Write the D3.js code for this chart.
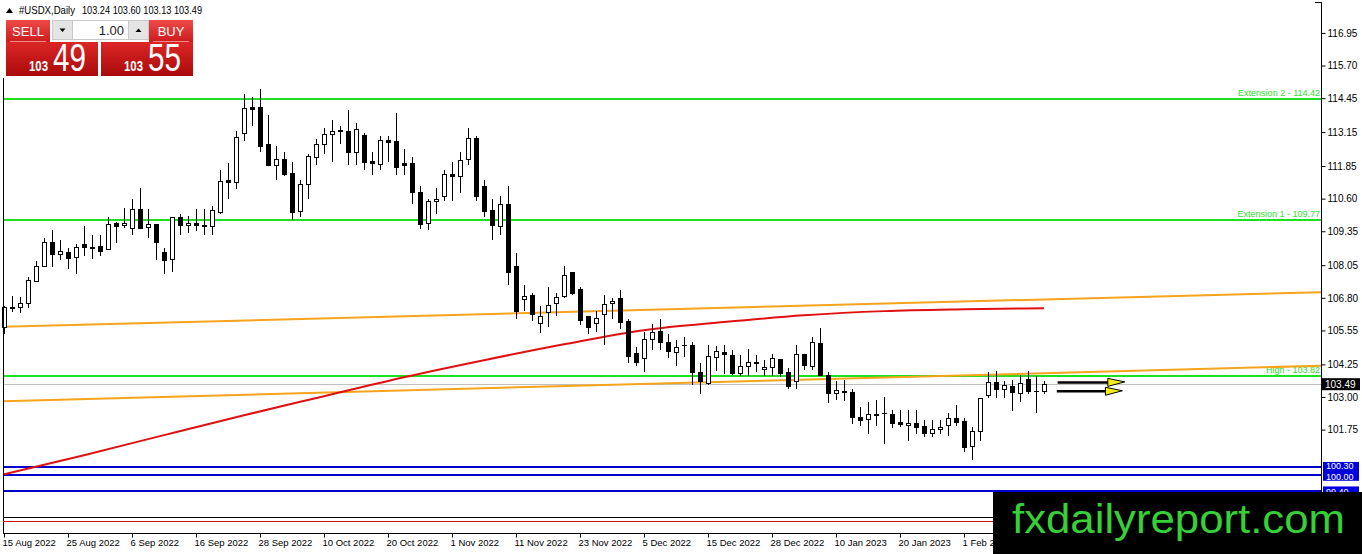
<!DOCTYPE html>
<meta charset="utf-8">
<script src="https://d3js.org/d3.v7.min.js"></script>
<style>
  body { margin: 0; background: #fff; }
  text { font-family: "Liberation Sans", Arial, sans-serif; }
</style>
<div id="chart"></div>
<script>
// daily candles, 15 Aug 2022 -> 15 Feb 2023
var opens  = [105.7,106.45,106.45,106.6,107.45,108.0,108.93,108.47,108.55,108.36,108.86,108.76,108.78,108.66,109.66,109.6,109.47,110.2,109.5,109.62,
              108.55,108.28,109.89,109.58,109.66,109.6,109.55,110.1,111.3,111.22,113.1,114.1,114.1,112.68,111.88,112.11,111.6,110.12,111.15,112.2,
              112.7,113.07,113.2,113.2,112.38,113.03,112.04,111.93,112.84,112.8,111.96,111.96,110.85,109.66,110.5,110.7,111.53,111.47,112.1,112.92,
              111.1,110.16,109.55,110.4,108.0,106.75,106.9,105.83,106.25,106.6,106.86,107.8,107.13,106.1,105.83,106.17,106.6,106.78,105.9,104.68,
              104.5,105.21,105.52,105.1,104.72,104.98,104.98,103.95,103.53,104.53,104.72,104.6,103.91,104.18,104.31,104.06,104.13,104.45,103.95,103.6,
              104.64,104.18,105.06,103.84,103.14,103.2,103.18,102.22,102.15,102.32,102.38,102.34,102.03,101.92,101.99,101.88,101.61,101.77,101.92,102.19,
              102.07,101.11,101.69,103.07,103.57,103.3,103.41,103.14,103.68,103.22,103.24];
var highs  = [106.5,106.86,106.82,107.6,108.2,109.1,109.4,109.0,108.7,108.85,109.56,109.2,109.2,109.9,109.7,110.23,110.6,111.0,110.2,109.62,
              108.7,109.9,110.0,109.95,110.2,110.2,110.3,111.7,111.95,113.2,114.6,114.5,114.8,113.8,112.6,112.4,112.0,111.3,112.3,112.9,
              113.3,113.6,113.4,114.0,113.5,113.1,112.4,113.0,113.0,113.87,112.5,112.2,111.1,110.6,111.0,111.7,112.0,112.4,113.3,113.0,
              111.3,110.6,110.7,111.1,108.5,107.3,107.0,106.5,107.2,107.0,108.0,107.8,107.2,106.1,106.3,106.9,106.8,107.1,106.0,104.9,
              105.5,105.8,106.0,105.4,105.2,105.3,105.1,104.3,105.0,104.95,105.0,104.8,104.6,104.85,104.6,104.4,104.65,104.45,104.1,105.0,
              104.64,105.3,105.65,103.95,103.6,103.65,103.3,102.6,102.8,102.9,103.0,102.5,102.5,102.5,102.5,102.1,102.1,102.1,102.4,102.7,
              102.2,101.85,102.95,103.95,104.0,103.6,103.65,103.84,104.0,103.8,103.6];
var lows   = [105.4,106.26,106.21,106.4,107.4,108.0,107.97,108.25,107.9,107.73,108.4,108.3,108.4,108.66,108.9,109.47,109.2,109.47,109.1,108.25,
              107.7,107.8,109.2,109.3,109.35,109.2,109.2,110.0,110.6,110.97,112.8,113.4,112.4,111.88,111.3,111.45,109.8,109.9,110.6,111.9,
              112.3,112.0,112.7,111.9,111.9,111.7,111.5,111.7,112.0,111.5,111.5,110.4,109.45,109.4,110.0,110.5,110.5,110.8,111.9,110.5,
              109.9,109.0,109.2,107.3,106.0,106.3,105.9,105.45,105.7,106.1,106.8,106.9,105.75,105.4,105.5,105.0,106.0,105.6,104.3,104.2,
              103.95,104.8,104.8,104.5,104.2,104.55,103.45,103.1,103.45,104.0,103.9,103.85,103.8,103.8,103.95,103.8,103.8,103.75,103.3,103.3,
              104.05,104.05,103.8,102.76,102.9,102.85,101.95,101.87,101.6,101.9,101.2,101.83,101.85,101.3,101.6,101.45,101.45,101.6,101.5,101.87,
              100.9,100.6,101.3,102.95,102.95,102.95,102.45,102.8,103.1,102.4,103.13];
var closes = [106.45,106.42,106.6,107.47,108.0,108.93,108.47,108.58,108.32,108.74,108.74,108.72,108.6,109.62,109.55,109.65,110.2,109.47,109.62,108.93,
              108.24,109.89,109.58,109.66,109.58,109.55,110.16,111.27,111.22,112.95,114.06,114.05,112.6,111.88,112.11,111.53,110.08,111.15,112.23,112.68,
              113.07,113.19,113.22,112.38,113.26,112.0,111.96,112.84,112.76,111.8,111.88,110.85,109.62,110.5,110.6,111.53,111.47,112.08,112.92,110.7,
              110.12,109.58,110.4,107.78,106.29,106.87,106.17,106.09,106.52,106.83,107.67,106.98,105.94,105.67,106.03,106.55,106.67,105.87,104.56,104.33,
              105.21,105.48,105.1,104.75,104.91,105.0,103.95,103.6,104.56,104.75,104.64,103.91,104.18,104.33,104.35,104.13,104.49,103.91,103.41,104.64,
              104.22,105.1,103.84,103.14,103.26,103.24,102.22,102.11,102.34,102.36,102.4,101.99,101.95,102.0,101.84,101.61,101.77,101.84,102.19,102.03,
              101.08,101.69,102.95,103.57,103.3,103.45,103.18,103.53,103.22,103.24,103.49];

// moving average (red), sampled every 10 bars
var maBars   = [0,10,20,30,40,50,60,70,80,90,100,110,120,130];
var maValues = [100.04,100.77,101.54,102.30,103.03,103.76,104.41,105.02,105.56,105.87,106.13,106.29,106.36,106.40];

// orange channel lines [bar, price]
var upperTrend = [[0,105.69],[165,107.02]];
var lowerTrend = [[0,102.84],[165,104.20]];

// horizontal levels
var greenLevels = [114.42, 109.77, 103.82];
var greenNames  = ["Extension 2 - 114.42", "Extension 1 - 109.77", "High - 103.82"];
var blueLevels  = [100.30, 100.00, 99.40];
var bidPrice = 103.49;

// arrows drawn on the chart
var arrowFrom  = [131.7, 131.6];
var arrowTo    = [140.1, 139.8];
var arrowPrice = [103.56, 103.22];

var priceTicks = [116.95,115.70,114.45,113.15,111.85,110.60,109.35,108.05,106.80,105.55,104.25,103.00,101.75];
var dateBars   = [0,8,16,24,32,40,48,56,64,72,80,88,96,104,112,120];
var dateLabels = ["15 Aug 2022","25 Aug 2022","6 Sep 2022","16 Sep 2022","28 Sep 2022","10 Oct 2022","20 Oct 2022","1 Nov 2022",
                  "11 Nov 2022","23 Nov 2022","5 Dec 2022","15 Dec 2022","28 Dec 2022","10 Jan 2023","20 Jan 2023","1 Feb 2023"];

var W = 1362, H = 554;
var left = 3, right = 1321, mainBottom = 517, axisY = 533;

var svg = d3.select("#chart").append("svg")
    .attr("width", W).attr("height", H)
    .style("display", "block");

var x = d3.scaleLinear().domain([0, 130]).range([4, 1044]);
var y = d3.scaleLinear().domain([98.9, 118]).range([504, 5.5]);

var plot = svg.append("g");

// bid line
plot.append("line")
    .attr("x1", left).attr("x2", right)
    .attr("y1", Math.round(y(bidPrice)) + 0.5).attr("y2", Math.round(y(bidPrice)) + 0.5)
    .attr("stroke", "#c0c0c0").attr("stroke-width", 1);

// green levels
greenLevels.forEach(function (lv, i) {
  var yy = Math.round(y(lv));
  plot.append("line")
      .attr("x1", left).attr("x2", right).attr("y1", yy).attr("y2", yy)
      .attr("stroke", "#1fe01f").attr("stroke-width", 2);
  plot.append("text")
      .attr("x", right - 1).attr("y", yy - 3)
      .attr("text-anchor", "end")
      .attr("font-size", 9)
      .attr("fill", "#2ee02e")
      .text(greenNames[i]);
});

// blue levels
blueLevels.forEach(function (lv) {
  var yy = Math.round(y(lv));
  plot.append("line")
      .attr("x1", left).attr("x2", right).attr("y1", yy).attr("y2", yy)
      .attr("stroke", "#0000cc").attr("stroke-width", 2);
});

// orange channel
var xr = d3.scaleLinear().domain([0, 165]).range([4, 1324]);
[upperTrend, lowerTrend].forEach(function (t) {
  plot.append("line")
      .attr("x1", left).attr("x2", right)
      .attr("y1", y(t[0][1] + (t[1][1] - t[0][1]) * (xr.invert(left) - t[0][0]) / (t[1][0] - t[0][0])))
      .attr("y2", y(t[0][1] + (t[1][1] - t[0][1]) * (xr.invert(right) - t[0][0]) / (t[1][0] - t[0][0])))
      .attr("stroke", "#f5a41c").attr("stroke-width", 2);
});

// moving average
var maData = maBars.map(function (b, i) { return [b, maValues[i]]; });
plot.append("path")
    .datum(maData)
    .attr("d", d3.line()
      .x(function (d) { return x(d[0]); })
      .y(function (d) { return y(d[1]); })
      .curve(d3.curveMonotoneX))
    .attr("fill", "none")
    .attr("stroke", "#e01010")
    .attr("stroke-width", 2);

// candles
var candles = plot.append("g").attr("shape-rendering", "crispEdges");
opens.forEach(function (o, i) {
  var c = closes[i];
  var cx = Math.round(x(i)) + 0.5;
  candles.append("line")
      .attr("x1", cx).attr("x2", cx)
      .attr("y1", Math.round(y(highs[i]))).attr("y2", Math.round(y(lows[i])))
      .attr("stroke", "#000").attr("stroke-width", 1);
  var top = Math.round(y(Math.max(o, c))), bot = Math.round(y(Math.min(o, c)));
  if (bot - top < 1) {
    candles.append("line")
        .attr("x1", cx - 2.5).attr("x2", cx + 2.5)
        .attr("y1", top + 0.5).attr("y2", top + 0.5)
        .attr("stroke", "#000");
  } else {
    candles.append("rect")
        .attr("x", cx - 2).attr("y", top + 0.5)
        .attr("width", 4).attr("height", bot - top)
        .attr("fill", c >= o ? "#fff" : "#000")
        .attr("stroke", "#000").attr("stroke-width", 1);
  }
});

// arrows
arrowPrice.forEach(function (p, i) {
  var yy = y(p), x0 = xr(arrowFrom[i]), x1 = xr(arrowTo[i]);
  plot.append("line")
      .attr("x1", x0).attr("x2", x1 - 14).attr("y1", yy).attr("y2", yy)
      .attr("stroke", "#000").attr("stroke-width", 2.5);
  plot.append("path")
      .attr("d", "M" + (x1 - 17) + "," + (yy - 4) + "L" + x1 + "," + (yy - 0.5) + "L" + (x1 - 17) + "," + (yy + 4) + "Z")
      .attr("fill", "#f4ea1c").attr("stroke", "#000").attr("stroke-width", 1);
});

// frame
svg.append("line").attr("x1", left + 0.5).attr("x2", left + 0.5).attr("y1", 78).attr("y2", axisY)
    .attr("stroke", "#000");
svg.append("line").attr("x1", right + 0.5).attr("x2", right + 0.5).attr("y1", 2).attr("y2", axisY)
    .attr("stroke", "#000");
svg.append("line").attr("x1", right - 6).attr("x2", right + 0.5).attr("y1", 2.5).attr("y2", 2.5)
    .attr("stroke", "#000");
svg.append("line").attr("x1", left).attr("x2", right).attr("y1", mainBottom + 0.5).attr("y2", mainBottom + 0.5)
    .attr("stroke", "#000");
svg.append("line").attr("x1", left).attr("x2", right).attr("y1", mainBottom + 4.5).attr("y2", mainBottom + 4.5)
    .attr("stroke", "#d01010");

// price axis
var yAxis = svg.append("g")
    .attr("transform", "translate(" + (right + 0.5) + ",0)")
    .call(d3.axisRight(y).tickValues(priceTicks).tickFormat(d3.format(".2f")).tickSize(4).tickPadding(2));
yAxis.select(".domain").remove();
yAxis.selectAll("text").attr("font-size", 10).attr("font-family", "Liberation Sans, Arial, sans-serif").attr("fill", "#000");

// price boxes on the axis
svg.append("rect").attr("x", right + 1).attr("y", y(bidPrice) - 6).attr("width", 38).attr("height", 12).attr("fill", "#000");
svg.append("text").attr("x", right + 4).attr("y", y(bidPrice) + 4).attr("font-size", 10)
    .attr("fill", "#fff").text(d3.format(".2f")(bidPrice));

var blueShift = [-1.5, 1.5, 1];
svg.append("rect").attr("x", right + 2).attr("y", y(blueLevels[0]) - 5.5)
    .attr("width", 36).attr("height", y(blueLevels[1]) - y(blueLevels[0]) + 11).attr("fill", "#0000dd");
svg.append("rect").attr("x", right + 2).attr("y", y(blueLevels[2]) - 4.5)
    .attr("width", 36).attr("height", 10).attr("fill", "#0000dd");
blueLevels.forEach(function (lv, i) {
  svg.append("text").attr("x", right + 5).attr("y", y(lv) + blueShift[i] + 3.2).attr("font-size", 9)
      .attr("fill", "#fff").text(d3.format(".2f")(lv));
});

// time axis
var xAxis = svg.append("g")
    .attr("transform", "translate(0," + (axisY + 0.5) + ")")
    .call(d3.axisBottom(x).tickValues(dateBars).tickFormat(function (d, i) { return dateLabels[i]; }).tickSize(4).tickPadding(2));
xAxis.select(".domain").attr("d", "M" + left + ",0H" + right);
xAxis.selectAll("text").attr("text-anchor", "start").attr("dx", -2)
    .attr("font-size", 9.5).attr("font-family", "Liberation Sans, Arial, sans-serif").attr("fill", "#000");

// title
svg.append("path").attr("d", "M6,13L9.5,8L13,13Z").attr("fill", "#000");
svg.append("text").attr("x", 19).attr("y", 14).attr("font-size", 10.5)
    .attr("textLength", 56).attr("lengthAdjust", "spacingAndGlyphs").text("#USDX,Daily");
svg.append("text").attr("x", 82).attr("y", 14).attr("font-size", 10.5)
    .attr("textLength", 120).attr("lengthAdjust", "spacingAndGlyphs")
    .text([opens[130], highs[130], lows[130], closes[130]].map(d3.format(".2f")).join(" "));

// one click trading panel
var defs = svg.append("defs");
var g1 = defs.append("linearGradient").attr("id", "btn").attr("x1", 0).attr("x2", 0).attr("y1", 0).attr("y2", 1);
g1.append("stop").attr("offset", 0).attr("stop-color", "#ee4a48");
g1.append("stop").attr("offset", 1).attr("stop-color", "#cc1c1c");
var g2 = defs.append("linearGradient").attr("id", "px").attr("x1", 0).attr("x2", 0).attr("y1", 0).attr("y2", 1);
g2.append("stop").attr("offset", 0).attr("stop-color", "#dc2626");
g2.append("stop").attr("offset", 1).attr("stop-color", "#a90a0a");

var panel = svg.append("g");
[[6, "SELL", "49"], [149, "BUY", "55"]].forEach(function (b, i) {
  panel.append("rect").attr("x", b[0]).attr("y", 20).attr("width", 44).attr("height", 22).attr("fill", "url(#btn)");
  panel.append("line").attr("x1", b[0] + 4).attr("x2", b[0] + 40).attr("y1", 41.5).attr("y2", 41.5)
      .attr("stroke", "#f08a8a").attr("stroke-width", 1);
  panel.append("text").attr("x", b[0] + 22).attr("y", 36).attr("text-anchor", "middle")
      .attr("font-size", 13).attr("fill", "#fff").text(b[1]);
  var bx = i === 0 ? 6 : 101;
  panel.append("rect").attr("x", bx).attr("y", 42).attr("width", 92).attr("height", 34).attr("fill", "url(#px)");
  panel.append("text").attr("x", bx + 23).attr("y", 71).attr("font-size", 14).attr("font-weight", "bold")
      .attr("textLength", 19).attr("lengthAdjust", "spacingAndGlyphs")
      .attr("fill", "#fff").text("103");
  panel.append("text").attr("x", bx + 47).attr("y", 71).attr("font-size", 38)
      .attr("font-family", "Noto Sans, sans-serif").attr("textLength", 33).attr("lengthAdjust", "spacingAndGlyphs")
      .attr("fill", "#fff").text(b[2]);
});
panel.append("rect").attr("x", 52.5).attr("y", 20.5).attr("width", 20).attr("height", 19).attr("fill", "#e4e4e4").attr("stroke", "#c8c8c8");
panel.append("rect").attr("x", 72.5).attr("y", 20.5).attr("width", 56).attr("height", 19).attr("fill", "#fff").attr("stroke", "#c8c8c8");
panel.append("rect").attr("x", 128.5).attr("y", 20.5).attr("width", 20).attr("height", 19).attr("fill", "#e4e4e4").attr("stroke", "#c8c8c8");
panel.append("path").attr("d", "M59.5,28.5L65.5,28.5L62.5,32Z").attr("fill", "#000");
panel.append("path").attr("d", "M135.5,32L141.5,32L138.5,28.5Z").attr("fill", "#000");
panel.append("text").attr("x", 124).attr("y", 35).attr("text-anchor", "end").attr("font-size", 13)
    .attr("fill", "#222").text("1.00");

// watermark
svg.append("rect").attr("x", 993).attr("y", 492).attr("width", W - 993).attr("height", H - 492).attr("fill", "#000");
svg.append("text").attr("x", 1012).attr("y", 533).attr("font-size", 41)
    .attr("textLength", 333).attr("lengthAdjust", "spacingAndGlyphs")
    .attr("fill", "#36d136").text("fxdailyreport.com");
</script>
